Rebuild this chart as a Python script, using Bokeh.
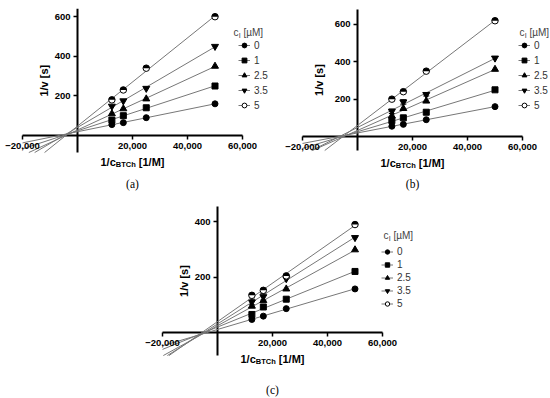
import numpy as np
from bokeh.plotting import figure
from bokeh.models import (FixedTicker, Label, Legend, LegendItem, Range1d, Spacer,
                          ColumnDataSource, Whisker, TeeHead)
from bokeh.layouts import column, row
from bokeh.embed import file_html
from bokeh.resources import INLINE

# ---------------- data ----------------
# 1/c_BTCh [1/M]
x_vals = [12500, 16667, 25000, 50000]
ci_labels = ["0", "1", "2.5", "3.5", "5"]

# panel (a): 1/v [s]
a_ci0 = [55, 65, 90, 160]
a_ci1 = [78, 100, 140, 250]
a_ci25 = [110, 135, 185, 350]
a_ci35 = [148, 175, 238, 450]
a_ci5 = [180, 230, 340, 600]

# panel (b)
b_ci0 = [55, 65, 90, 160]
b_ci1 = [85, 100, 130, 250]
b_ci25 = [110, 150, 190, 360]
b_ci35 = [135, 185, 225, 420]
b_ci5 = [200, 240, 350, 620]
b_ci35_err = [12, 12, 8, 0]

# panel (c)
c_ci0 = [47, 59, 86, 157]
c_ci1 = [65, 92, 120, 220]
c_ci25 = [95, 115, 157, 298]
c_ci35 = [110, 129, 194, 342]
c_ci5 = [134, 152, 204, 389]
c_ci35_err = [10, 12, 0, 0]

x_ticks = [-20000, 20000, 40000, 60000]
x_tick_labels = ["\u221220,000", "20,000", "40,000", "60,000"]
a_y_ticks = [200, 400, 600]
b_y_ticks = [200, 400, 600]
c_y_ticks = [200, 400]

# axis extents
X_AX = (-20000, 60000)
a_y_ax = (-86, 640)
b_y_ax = (-75, 680)
c_y_ax = (-83, 454)

markers = ["circle", "square", "triangle", "inverted_triangle", "half_circle"]
marker_sizes = [6, 6, 7, 7, 6.5]

FONT = "Liberation Sans"
SX = 220 / 80000.0  # px per x unit


def make_panel(series, err, y_ax, y_ticks, W, H, x0_px, y0_px, sy, ylab_x,
               legend_xy, item_h, spacing, title_xy, caption, caption_y):
    x_rng = Range1d(-x0_px / SX, (W - x0_px) / SX)
    y_rng = Range1d((y0_px - H) / sy, y0_px / sy)
    p = figure(width=W, height=H, x_range=x_rng, y_range=y_rng,
               output_backend="svg", toolbar_location=None,
               min_border=0)
    p.outline_line_color = None
    p.xgrid.visible = False
    p.ygrid.visible = False

    xa = p.xaxis[0]
    ya = p.yaxis[0]
    xa.fixed_location = 0
    ya.fixed_location = 0
    xa.ticker = FixedTicker(ticks=x_ticks)
    xa.major_label_overrides = dict(zip(x_ticks, x_tick_labels))
    ya.ticker = FixedTicker(ticks=y_ticks)
    for ax in (xa, ya):
        ax.axis_line_color = None
        ax.major_tick_line_width = 1.5
        ax.major_tick_line_color = "black"
        ax.major_tick_out = 4
        ax.major_tick_in = 0
        ax.minor_tick_line_color = None
        ax.major_label_text_font = FONT
        ax.major_label_text_font_style = "bold"
        ax.major_label_text_font_size = "9.5px"
        ax.major_label_text_color = "black"
        ax.major_label_standoff = 3

    # axis lines over their own extents
    p.segment(x0=[X_AX[0], 0], y0=[0, y_ax[0]], x1=[X_AX[1], 0], y1=[0, y_ax[1]],
              line_color="black", line_width=2)

    # y-axis label
    p.add_layout(Label(x=ylab_x, y=(y_ax[0] + y_ax[1]) / 2, x_units="screen", y_units="data",
                       text="1/v [s]", angle=np.pi / 2, text_font=FONT,
                       text_font_style="bold", text_font_size="11px",
                       text_align="center", text_baseline="middle", text_color="black"))

    # x-axis label with subscript, built from text pieces
    for txt, size, dx, dy in [("1/c", "11px", -32, -26),
                              ("BTCh", "7.5px", -16.7, -29),
                              ("[1/M]", "11px", 6.3, -26)]:
        p.add_layout(Label(x=20000, y=0, x_units="data", y_units="data",
                           x_offset=dx, y_offset=dy, text=txt,
                           text_font=FONT, text_font_style="bold",
                           text_font_size=size, text_align="left",
                           text_baseline="middle", text_color="black"))

    items = []
    for lab, ys, mk, ms in zip(ci_labels, series, markers, marker_sizes):
        k, b0 = np.polyfit(x_vals, ys, 1)
        x_left = max(X_AX[0], (y_ax[0] - b0) / k)
        lx = [x_left, max(x_vals)]
        lr = p.line(lx, [k * v + b0 for v in lx], line_color="#777777", line_width=1)
        if mk == "half_circle":
            sr = p.scatter(x_vals, ys, marker="circle", size=ms, fill_color="white",
                           line_color="black", line_width=1)
            p.wedge(x_vals, ys, radius=ms / 2, radius_units="screen", start_angle=0,
                    end_angle=np.pi, fill_color="black", line_color=None)
        else:
            sr = p.scatter(x_vals, ys, marker=mk, size=ms, fill_color="black",
                           line_color="black")
        items.append(LegendItem(label=lab, renderers=[lr, sr]))

    # error bars (3.5 µM series)
    if err is not None:
        ys35 = series[3]
        ex = [x for x, e in zip(x_vals, err) if e > 0]
        ey = [y for y, e in zip(ys35, err) if e > 0]
        ee = [e for e in err if e > 0]
        src = ColumnDataSource(dict(x=ex, lo=[y - e for y, e in zip(ey, ee)],
                                    hi=[y + e for y, e in zip(ey, ee)]))
        p.add_layout(Whisker(source=src, base="x", lower="lo", upper="hi",
                             line_color="black", line_width=1,
                             upper_head=TeeHead(size=6, line_color="black", line_width=1),
                             lower_head=TeeHead(size=6, line_color="black", line_width=1)))

    legend = Legend(items=items, location=legend_xy, glyph_width=12,
                    glyph_height=item_h, label_height=item_h, spacing=spacing,
                    padding=0, margin=0, border_line_color=None,
                    background_fill_alpha=0, label_standoff=4,
                    label_text_font=FONT, label_text_font_size="10px",
                    label_text_color="#333333")
    p.add_layout(legend)

    # legend title c_I [µM]
    tx, ty = title_xy
    for txt, size, dx, dy in [("c", "10px", 0, 0), ("I", "7px", 5.2, -3),
                              ("[\u00b5M]", "10px", 10, 0)]:
        p.add_layout(Label(x=tx, y=ty, x_units="screen", y_units="screen",
                           x_offset=dx, y_offset=dy, text=txt, text_font=FONT,
                           text_font_size=size, text_align="left",
                           text_baseline="middle", text_color="#444444"))

    p.add_layout(Label(x=20000, y=caption_y, x_units="data", y_units="screen",
                       text=caption, text_font="Liberation Serif",
                       text_font_size="11.5px", text_align="center",
                       text_baseline="middle", text_color="black"))
    return p


pa = make_panel([a_ci0, a_ci1, a_ci25, a_ci35, a_ci5], None, a_y_ax, a_y_ticks,
                280, 195, 77, 135, 0.198, 43, (238, 84), 12, 3, (233, 163), "(a)", 12)
pb = make_panel([b_ci0, b_ci1, b_ci25, b_ci35, b_ci5], b_ci35_err, b_y_ax, b_y_ticks,
                270, 195, 77, 136, 0.1867, 38, (238, 84), 12, 3, (239, 163), "(b)", 12)
pc = make_panel([c_ci0, c_ci1, c_ci25, c_ci35, c_ci5], c_ci35_err, c_y_ax, c_y_ticks,
                280, 203, 77, 137, 0.2775, 43, (241, 89), 11, 2, (243, 163), "(c)", 9)

layout = column(row(pa, pb), row(Spacer(width=140, height=10), pc))

open("out.html", "w").write(file_html(layout, INLINE))
